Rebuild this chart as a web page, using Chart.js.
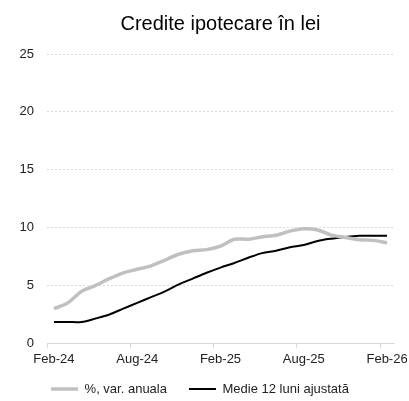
<!DOCTYPE html>
<html>
<head>
<meta charset="utf-8">
<script src="https://cdn.jsdelivr.net/npm/chart.js@4"></script>
<style>
html,body{margin:0;padding:0;background:#fff;}
#wrap{width:409px;height:401px;}
</style>
</head>
<body>
<div id="wrap"><canvas id="c" width="409" height="401"></canvas></div>
<script>
const months = ['Feb-24','Mar-24','Apr-24','May-24','Jun-24','Jul-24','Aug-24','Sep-24','Oct-24','Nov-24','Dec-24','Jan-25',
  'Feb-25','Mar-25','Apr-25','May-25','Jun-25','Jul-25','Aug-25','Sep-25','Oct-25','Nov-25','Dec-25','Jan-26','Feb-26'];
const varAnuala = [3.0,3.5,4.5,5.0,5.6,6.1,6.4,6.7,7.2,7.7,8.0,8.1,8.4,9.0,9.0,9.2,9.35,9.7,9.9,9.8,9.35,9.15,8.95,8.9,8.7];
const medie12 = [1.85,1.85,1.85,2.15,2.5,3.0,3.5,4.0,4.5,5.1,5.6,6.1,6.55,6.95,7.4,7.8,8.0,8.3,8.5,8.85,9.05,9.2,9.3,9.3,9.3];
const yTicks = [0,5,10,15,20,25];
const seriesNames = ['%, var. anuala','Medie 12 luni ajustată'];
const titleText = 'Credite ipotecare în lei';

const font = "'Liberation Sans', Arial, sans-serif";
const chart = new Chart(document.getElementById('c'), {
  type: 'line',
  data: {
    labels: months,
    datasets: [
      {label: seriesNames[0], data: varAnuala, borderColor: '#c0c0c0', backgroundColor: '#c0c0c0', borderWidth: 3.5, pointRadius: 0, tension: 0.3, pointStyle: 'line'},
      {label: seriesNames[1], data: medie12, borderColor: '#000000', backgroundColor: '#000000', borderWidth: 2, pointRadius: 0, tension: 0.3, pointStyle: 'line'}
    ]
  },
  options: {
    responsive: false,
    animation: false,
    layout: {padding: {left: 6, right: 15, top: 0, bottom: 0}},
    plugins: {
      title: {display: true, fullSize: false, text: titleText, color: '#000', font: {family: font, size: 20, weight: 'normal'}, padding: {top: 12, bottom: 18}},
      legend: {position: 'bottom', labels: {usePointStyle: true, pointStyleWidth: 27, boxHeight: 10, color: '#222', font: {family: font, size: 13}, padding: 22}},
      tooltip: {enabled: false}
    },
    scales: {
      x: {
        offset: true,
        afterFit: s => { s.paddingLeft = 0; s.paddingRight = 0; },
        grid: {offset: true, drawOnChartArea: false, tickLength: 5,
          color: ctx => (ctx.index % 6 === 0 && ctx.index < months.length) ? '#d9d9d9' : 'rgba(0,0,0,0)'},
        border: {color: '#d9d9d9', width: 1},
        ticks: {autoSkip: false, maxRotation: 0, color: '#222', font: {family: font, size: 13}, padding: 3,
          callback: (v, i) => i % 6 === 0 ? months[i] : ''}
      },
      y: {
        min: 0, max: 25,
        afterBuildTicks: s => { s.ticks = yTicks.map(v => ({value: v})); },
        afterFit: s => { s.width = 41; },
        grid: {color: '#d9d9d9', drawTicks: false},
        border: {display: false, dash: [2,2]},
        ticks: {color: '#222', font: {family: font, size: 13}, padding: 13}
      }
    }
  }
});
// keep wide horizontal spacing between legend items but a tighter vertical block
const lg = chart.legend;
const origFit = lg.fit.bind(lg);
lg.fit = function () { origFit(); this.height -= 14; };
const origInnerDraw = lg._draw.bind(lg);
lg._draw = function () { const c = this.ctx; c.save(); c.translate(0, -9.5); origInnerDraw(); c.restore(); };
chart.update();
</script>
</body>
</html>
